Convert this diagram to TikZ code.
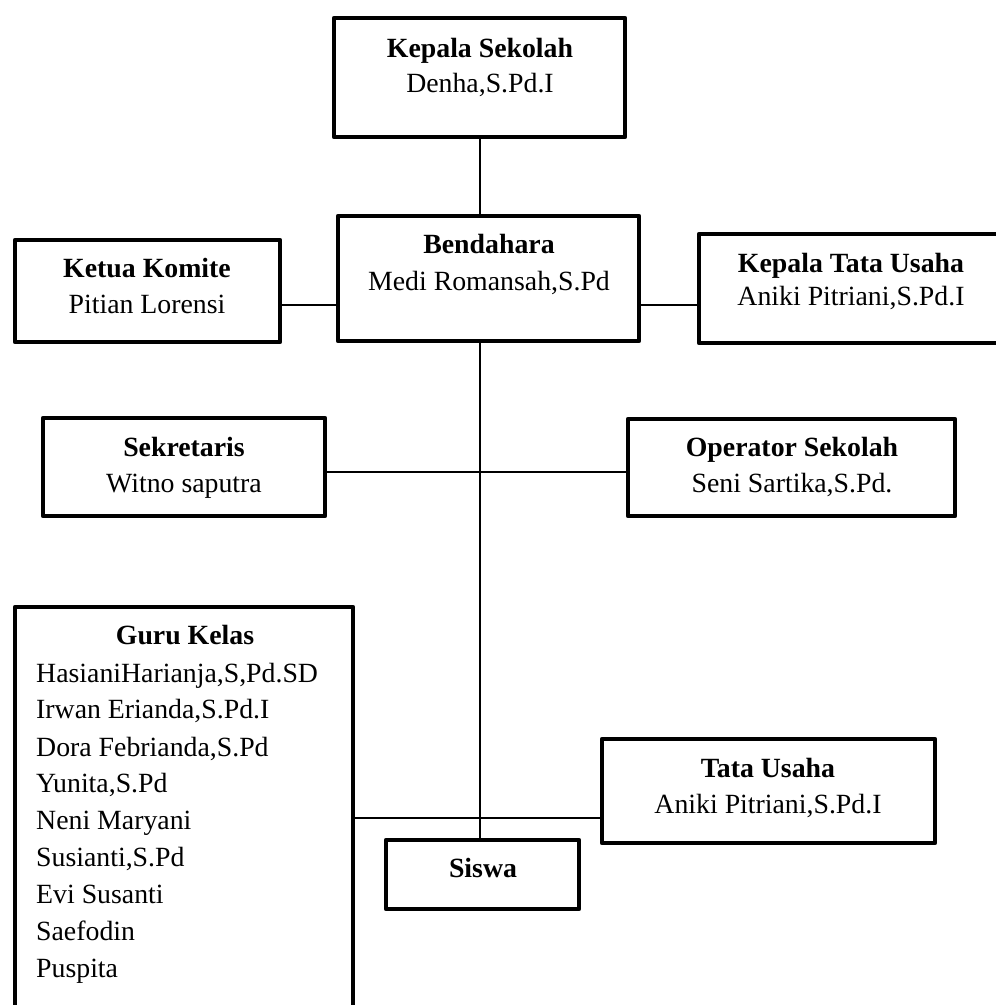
\documentclass[tikz,border=0pt]{standalone}
\usepackage{fontspec}
\setmainfont{Liberation Serif}
\begin{document}
\begin{tikzpicture}[x=1pt,y=-1pt,
  box/.style={draw=black,line width=4.5pt,line join=round,rectangle,inner sep=0pt,outer sep=0pt,fill=white},
  conn/.style={draw=black,line width=1.8pt},
  ttl/.style={font=\fontsize{27.8}{33}\selectfont\bfseries,inner sep=0pt,anchor=base},
  txt/.style={font=\fontsize{27.8}{33}\selectfont,inner sep=0pt,anchor=base},
  lst/.style={font=\fontsize{27.8}{33}\selectfont,inner sep=0pt,anchor=base west}]
\useasboundingbox (0,0) rectangle (996,1005);
\begin{scope}
\clip (0,0) rectangle (996,1005);
\coordinate (trunk) at (480,0);
\node[box,minimum width=291pt,minimum height=119pt] (ks) at (479.5,77.5) {};
\node[box,minimum width=301pt,minimum height=125pt] (bend) at (488.5,278.5) {};
\node[box,minimum width=265pt,minimum height=102pt] (kk) at (147.5,291) {};
\node[box,minimum width=311pt,minimum height=109pt] (ktu) at (854.5,288.5) {};
\node[box,minimum width=282pt,minimum height=98pt] (sek) at (184,467) {};
\node[box,minimum width=327pt,minimum height=97pt] (op) at (791.5,467.5) {};
\node[box,minimum width=338pt,minimum height=403pt] (gk) at (184,808.5) {};
\node[box,minimum width=333pt,minimum height=104pt] (tu) at (768.5,791) {};
\node[box,minimum width=193pt,minimum height=69pt] (sis) at (482.5,874.5) {};
\coordinate (y1) at (0,305);
\coordinate (y2) at (0,305);
\coordinate (y3) at (0,472);
\coordinate (y4) at (0,818);
\draw[conn] (trunk |- ks.south) -- (trunk |- bend.north);
\draw[conn] (kk.east |- y1) -- (bend.west |- y1);
\draw[conn] (bend.east |- y2) -- (ktu.west |- y2);
\draw[conn] (trunk |- bend.south) -- (trunk |- sis.north);
\draw[conn] (sek.east |- y3) -- (op.west |- y3);
\draw[conn] (gk.east |- y4) -- (tu.west |- y4);
% texts
\node[ttl] (t1) at (480,57) {Kepala Sekolah};
\node[txt] (t2) at (480,92) {Denha,S.Pd.I};
\node[ttl] (t3) at (489,253) {Bendahara};
\node[txt] (t4) at (489,290) {Medi Romansah,S.Pd};
\node[ttl] (t5) at (147,277) {Ketua Komite};
\node[txt] (t6) at (147,313) {Pitian Lorensi};
\node[ttl] (t7) at (851,272) {Kepala Tata Usaha};
\node[txt] (t8) at (851,305) {Aniki Pitriani,S.Pd.I};
\node[ttl] (t9) at (184,456) {Sekretaris};
\node[txt] (t10) at (184,492) {Witno saputra};
\node[ttl] (t11) at (792,456) {Operator Sekolah};
\node[txt] (t12) at (792,492) {Seni Sartika,S.Pd.};
\node[ttl] (t13) at (185,644) {Guru Kelas};
\node[lst] (g1) at (36,682) {HasianiHarianja,S,Pd.SD};
\node[lst] (g2) at (36,718) {Irwan Erianda,S.Pd.I};
\node[lst] (g3) at (36,756) {Dora Febrianda,S.Pd};
\node[lst] (g4) at (36,792) {Yunita,S.Pd};
\node[lst] (g5) at (36,829) {Neni Maryani};
\node[lst] (g6) at (36,866) {Susianti,S.Pd};
\node[lst] (g7) at (36,903) {Evi Susanti};
\node[lst] (g8) at (36,940) {Saefodin};
\node[lst] (g9) at (36,977) {Puspita};
\node[ttl] (t14) at (768,777) {Tata Usaha};
\node[txt] (t15) at (768,813) {Aniki Pitriani,S.Pd.I};
\node[ttl] (t16) at (483,877) {Siswa};
\end{scope}
\end{tikzpicture}
\end{document}
